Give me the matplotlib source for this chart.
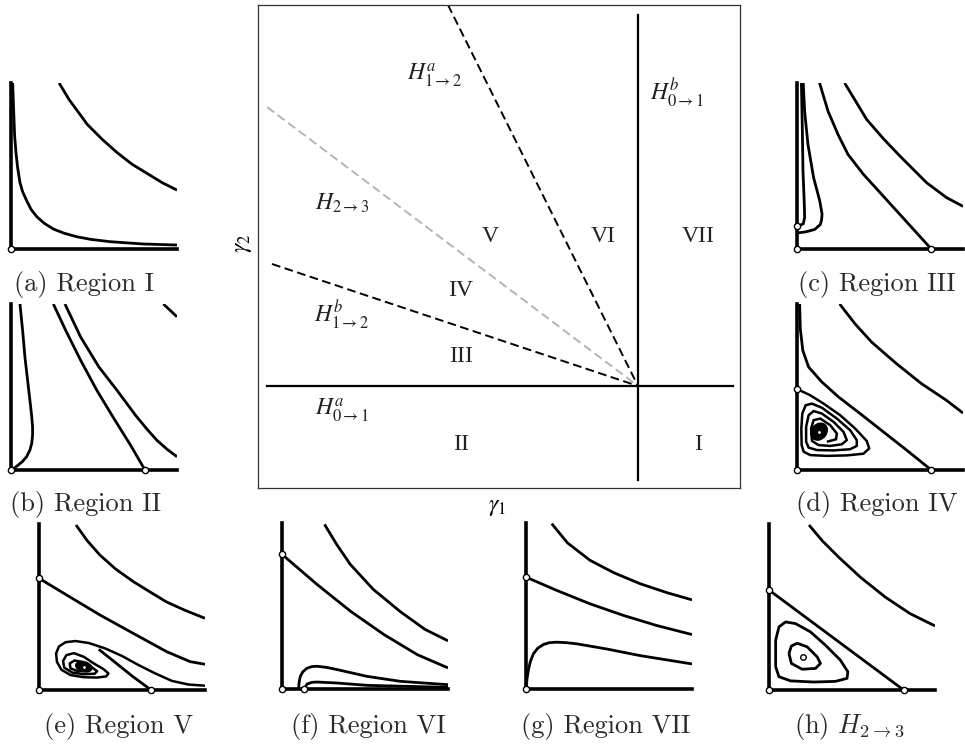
import numpy as np
import matplotlib
matplotlib.use('Agg')
import matplotlib.pyplot as plt
from matplotlib.patches import Ellipse

W, H = 965, 744

# ---- bifurcation diagram (main box), origin at crossing point ----
h01a_x, h01a_y = [-3.71, 0.95], [0.0, 0.0]
h01b_x, h01b_y = [0.0, 0.0], [-0.94, 3.71]
h12a_x, h12a_y = [-1.90, 0.0], [3.81, 0.0]
h23_x, h23_y = [-3.71, 0.0], [2.79, 0.0]
h12b_x, h12b_y = [-3.66, 0.0], [1.22, 0.0]

region_names = ['I', 'II', 'III', 'IV', 'V', 'VI', 'VII']
region_x = [0.60, -1.77, -1.77, -1.77, -1.48, -0.35, 0.60]
region_y = [-0.59, -0.59, 0.30, 0.95, 1.49, 1.49, 1.49]

curve_labels = [r'$H^{a}_{1\to2}$', r'$H^{b}_{0\to1}$', r'$H_{2\to3}$',
                r'$H^{b}_{1\to2}$', r'$H^{a}_{0\to1}$']
curve_label_x = [-2.03, 0.39, -2.96, -2.96, -2.96]
curve_label_y = [3.11, 2.93, 1.83, 0.71, -0.24]

# ---- phase portraits, panel units (0..1) ----
a_upper = [(0.29, 1.0), (0.35, 0.9), (0.46, 0.75), (0.55, 0.66), (0.64, 0.58),
           (0.73, 0.51), (0.82, 0.455), (0.91, 0.40), (1.0, 0.355)]
a_lower = [(0.01, 1.0), (0.018, 0.78), (0.022, 0.68), (0.03, 0.58), (0.04, 0.49),
           (0.054, 0.40), (0.07, 0.345), (0.095, 0.29), (0.12, 0.24), (0.155, 0.195),
           (0.2, 0.155), (0.256, 0.12), (0.32, 0.095), (0.396, 0.074), (0.48, 0.058),
           (0.598, 0.044), (0.8, 0.03), (1.0, 0.024)]

b_saddle = 0.807
b_node = [(0.054, 1.0), (0.07, 0.84), (0.084, 0.68), (0.1, 0.54), (0.114, 0.42),
          (0.124, 0.33), (0.13, 0.26), (0.13, 0.21), (0.125, 0.161), (0.114, 0.12),
          (0.094, 0.08), (0.07, 0.052), (0.044, 0.03), (0.02, 0.012), (0.0, 0.0)]
b_sep = [(0.255, 1.0), (0.33, 0.84), (0.42, 0.66), (0.516, 0.482), (0.62, 0.31),
         (0.72, 0.15), (0.807, 0.0)]
b_far = [(0.325, 1.0), (0.42, 0.8), (0.53, 0.62), (0.637, 0.482), (0.75, 0.33),
         (0.82, 0.245), (0.878, 0.18), (0.94, 0.125), (1.0, 0.08)]
b_corner = [(0.918, 1.0), (1.0, 0.923)]

c_eq_v, c_saddle = 0.139, 0.809
c_inner = [(0.026, 1.03), (0.032, 0.73), (0.036, 0.47), (0.044, 0.27),
           (0.046, 0.19), (0.038, 0.152), (0.006, 0.138)]
c_loop = [(0.036, 1.03), (0.046, 0.83), (0.066, 0.63), (0.1, 0.43), (0.137, 0.29),
          (0.151, 0.21), (0.148, 0.175), (0.141, 0.148), (0.107, 0.118),
          (0.056, 0.104), (0.0, 0.096)]
c_sep = [(0.127, 1.03), (0.187, 0.83), (0.247, 0.69), (0.307, 0.57), (0.4, 0.45),
         (0.5, 0.34), (0.6, 0.23), (0.7, 0.12), (0.809, 0.0)]
c_far = [(0.287, 1.0), (0.42, 0.78), (0.52, 0.665), (0.62, 0.56), (0.78, 0.4),
         (0.9, 0.31), (1.0, 0.257)]

d_eq_v, d_saddle = 0.488, 0.809
d_far = [(0.257, 1.0), (0.35, 0.88), (0.45, 0.77), (0.6, 0.64), (0.75, 0.52),
         (0.9, 0.42), (1.0, 0.343)]
d_sep = [(0.016, 1.0), (0.02, 0.85), (0.035, 0.72), (0.07, 0.62), (0.15, 0.53),
         (0.25, 0.44), (0.38, 0.34), (0.52, 0.23), (0.66, 0.12), (0.809, 0.0)]
d_spiral = [(0.0, 0.488), (0.08, 0.45), (0.16, 0.40), (0.26, 0.33), (0.35, 0.25),
            (0.42, 0.175), (0.435, 0.13), (0.40, 0.098), (0.30, 0.088), (0.18, 0.085),
            (0.08, 0.09), (0.04, 0.11), (0.028, 0.15), (0.026, 0.25), (0.032, 0.34),
            (0.052, 0.39), (0.09, 0.40), (0.15, 0.375), (0.24, 0.31), (0.32, 0.24),
            (0.36, 0.18), (0.36, 0.145), (0.32, 0.125), (0.22, 0.118), (0.12, 0.12),
            (0.07, 0.135), (0.055, 0.17), (0.055, 0.26), (0.07, 0.33), (0.1, 0.355),
            (0.15, 0.34), (0.22, 0.29), (0.28, 0.23), (0.3, 0.18), (0.27, 0.155),
            (0.2, 0.145), (0.13, 0.15), (0.09, 0.175), (0.085, 0.25), (0.1, 0.3),
            (0.14, 0.31), (0.2, 0.27), (0.24, 0.22), (0.235, 0.185), (0.18, 0.17)]
d_focus = (0.133, 0.231)

e_eq_v, e_saddle = 0.673, 0.675
e_far = [(0.223, 0.994), (0.29, 0.9), (0.367, 0.813), (0.46, 0.73), (0.568, 0.653),
         (0.67, 0.59), (0.769, 0.53), (0.88, 0.48), (1.0, 0.432)]
e_manifold = [(0.0, 0.673), (0.167, 0.572), (0.367, 0.452), (0.568, 0.341),
              (0.769, 0.231), (0.91, 0.171), (1.0, 0.155)]
e_spiral = [(1.0, 0.026), (0.9, 0.033), (0.8, 0.055), (0.7, 0.1), (0.6, 0.15),
            (0.5, 0.205), (0.4, 0.25), (0.3, 0.283), (0.22, 0.295), (0.16, 0.288),
            (0.12, 0.262), (0.103, 0.22), (0.108, 0.17), (0.135, 0.122), (0.19, 0.09),
            (0.27, 0.077), (0.35, 0.075), (0.405, 0.082), (0.418, 0.1), (0.39, 0.125),
            (0.33, 0.16), (0.27, 0.2), (0.21, 0.222), (0.165, 0.21), (0.145, 0.175),
            (0.152, 0.135), (0.2, 0.105), (0.27, 0.095), (0.335, 0.098), (0.35, 0.113),
            (0.315, 0.14), (0.265, 0.168), (0.215, 0.178), (0.185, 0.16), (0.19, 0.13),
            (0.23, 0.115), (0.28, 0.115), (0.3, 0.125)]
e_into_saddle = [(0.36, 0.245), (0.448, 0.175), (0.56, 0.085), (0.675, 0.0)]
e_focus = (0.27, 0.14)

f_eq_v, f_eq_u = 0.811, 0.135
f_far = [(0.256, 0.992), (0.33, 0.87), (0.412, 0.75), (0.55, 0.6), (0.714, 0.465),
         (0.86, 0.36), (1.0, 0.29)]
f_manifold = [(0.0, 0.811), (0.211, 0.63), (0.412, 0.469), (0.614, 0.328),
              (0.815, 0.207), (1.0, 0.127)]
f_hump = [(0.1, 0.0), (0.103, 0.04), (0.11, 0.075), (0.125, 0.103), (0.15, 0.125),
          (0.18, 0.135), (0.211, 0.137), (0.27, 0.13), (0.332, 0.117), (0.42, 0.097),
          (0.513, 0.076), (0.714, 0.046), (1.0, 0.026)]
f_hump2 = [(0.135, 0.0), (0.151, 0.03), (0.18, 0.04), (0.211, 0.042), (0.332, 0.036),
           (0.513, 0.022), (1.0, 0.01)]

g_eq_v = 0.674
g_far = [(0.155, 0.996), (0.25, 0.88), (0.386, 0.775), (0.53, 0.7), (0.688, 0.634),
         (0.85, 0.58), (1.0, 0.537)]
g_manifold = [(0.0, 0.674), (0.185, 0.594), (0.386, 0.513), (0.588, 0.443),
              (0.789, 0.382), (1.0, 0.328)]
g_hump = [(0.0, 0.0), (0.006, 0.06), (0.014, 0.111), (0.026, 0.165), (0.044, 0.211),
          (0.07, 0.245), (0.105, 0.268), (0.14, 0.279), (0.185, 0.282), (0.245, 0.279),
          (0.306, 0.272), (0.487, 0.241), (0.688, 0.201), (1.0, 0.151)]

h_eq_v, h_saddle = 0.602, 0.811
h_far = [(0.241, 0.994), (0.32, 0.9), (0.42, 0.8), (0.55, 0.68), (0.7, 0.56),
         (0.85, 0.46), (1.0, 0.386)]
h_orbit_out = [(0.04, 0.14), (0.04, 0.3), (0.06, 0.38), (0.1, 0.41), (0.16, 0.4),
               (0.25, 0.35), (0.34, 0.27), (0.43, 0.18), (0.475, 0.11), (0.47, 0.07),
               (0.4, 0.052), (0.27, 0.048), (0.13, 0.055), (0.06, 0.08), (0.04, 0.14)]
h_orbit_in = [(0.12, 0.22), (0.135, 0.265), (0.17, 0.282), (0.23, 0.26), (0.29, 0.2),
              (0.31, 0.16), (0.28, 0.13), (0.2, 0.125), (0.135, 0.16), (0.12, 0.22)]
h_center = (0.205, 0.201)

captions = ['(a) Region I', '(b) Region II', '(c) Region III', '(d) Region IV',
            '(e) Region V', '(f) Region VI', '(g) Region VII', r'(h) $H_{2\to3}$']
# panel origin (px), caption centre (px)
panel_origin = [(11, 249), (11, 470), (797, 249), (797, 470),
                (39, 690), (282, 689), (526, 689), (769, 690)]
caption_pos = [(84, 284), (86, 504), (877, 284), (877, 504),
               (119, 727), (368, 727), (606, 727), (849, 727)]

LW = 2.0
AX_LW = 2.6


def curve(ax, pts, lw=LW, **kw):
    p = np.array(pts)
    ax.plot(p[:, 0], p[:, 1], color='black', lw=lw, solid_capstyle='butt',
            solid_joinstyle='round', **kw)


def eq(ax, u, v, ms=4.5):
    ax.plot([u], [v], 'o', ms=ms, mfc='white', mec='black', mew=1.0,
            clip_on=False, zorder=10)


def panel(i):
    x0, y0 = panel_origin[i]
    ax = fig.add_axes([x0 / W, (H - y0) / H, 166 / W, 166 / H])
    ax.set_xlim(0, 1)
    ax.set_ylim(0, 1)
    ax.axis('off')
    ax.plot([0, 0], [0, 1], color='black', lw=AX_LW, clip_on=False)
    ax.plot([0, 1], [0, 0], color='black', lw=AX_LW, clip_on=False)
    fig.text(caption_pos[i][0] / W, 1 - caption_pos[i][1] / H, captions[i],
             ha='center', va='center', fontsize=19, family='cmr10',
             math_fontfamily='cm', color='#2a2a2a')
    return ax


fig = plt.figure(figsize=(W / 100, H / 100), dpi=100)

# main diagram
ax = fig.add_axes([258 / W, (H - 488) / H, 482 / W, 483 / H])
ax.set_xlim(-3.80, 1.02)
ax.set_ylim(-1.02, 3.81)
ax.set_xticks([])
ax.set_yticks([])
for s in ax.spines.values():
    s.set_color('#333333')
    s.set_linewidth(0.9)
ax.plot(h23_x, h23_y, color='#b4b4b4', lw=1.4, dashes=(4.5, 2.3))
ax.plot(h12a_x, h12a_y, color='black', lw=1.4, dashes=(4.5, 2.3))
ax.plot(h12b_x, h12b_y, color='black', lw=1.4, dashes=(4.5, 2.3))
ax.plot(h01a_x, h01a_y, color='black', lw=1.6)
ax.plot(h01b_x, h01b_y, color='black', lw=1.6)
for name, x, y in zip(region_names, region_x, region_y):
    ax.text(x, y, name, ha='center', va='center', fontsize=17,
            family='Liberation Serif', color='#222222')
for lab, x, y in zip(curve_labels, curve_label_x, curve_label_y):
    ax.text(x, y, lab, ha='center', va='center', fontsize=17,
            math_fontfamily='stix', color='#222222')
fig.text(497 / W, 1 - 506 / H, r'$\gamma_1$', ha='center', va='center',
         fontsize=17, math_fontfamily='stix')
fig.text(242 / W, 1 - 243 / H, r'$\gamma_2$', ha='center', va='center',
         fontsize=17, math_fontfamily='stix', rotation=90)

# (a)
ax = panel(0)
curve(ax, a_upper)
curve(ax, a_lower)
eq(ax, 0, 0)

# (b)
ax = panel(1)
for c in (b_node, b_sep, b_far, b_corner):
    curve(ax, c)
eq(ax, 0, 0)
eq(ax, b_saddle, 0)

# (c)
ax = panel(2)
for c in (c_inner, c_loop, c_sep, c_far):
    curve(ax, c)
eq(ax, 0, 0)
eq(ax, 0, c_eq_v)
eq(ax, c_saddle, 0)

# (d)
ax = panel(3)
for c in (d_far, d_sep):
    curve(ax, c)
curve(ax, d_spiral, lw=1.8)
ax.add_patch(Ellipse(d_focus, 0.09, 0.11, angle=-40, color='black'))
eq(ax, 0, 0)
eq(ax, 0, d_eq_v)
eq(ax, d_saddle, 0)
eq(ax, *d_focus, ms=3)

# (e)
ax = panel(4)
for c in (e_far, e_manifold, e_into_saddle):
    curve(ax, c)
curve(ax, e_spiral, lw=1.8)
ax.add_patch(Ellipse(e_focus, 0.1, 0.06, angle=-15, color='black'))
eq(ax, 0, 0)
eq(ax, 0, e_eq_v)
eq(ax, e_saddle, 0)
eq(ax, *e_focus, ms=3)

# (f)
ax = panel(5)
for c in (f_far, f_manifold, f_hump, f_hump2):
    curve(ax, c)
eq(ax, 0, 0)
eq(ax, 0, f_eq_v)
eq(ax, f_eq_u, 0)

# (g)
ax = panel(6)
for c in (g_far, g_manifold, g_hump):
    curve(ax, c)
eq(ax, 0, 0)
eq(ax, 0, g_eq_v)

# (h)
ax = panel(7)
curve(ax, h_far)
curve(ax, [(0, h_eq_v), (h_saddle, 0)])
curve(ax, h_orbit_out)
curve(ax, h_orbit_in)
eq(ax, 0, 0)
eq(ax, 0, h_eq_v)
eq(ax, h_saddle, 0)
eq(ax, *h_center, ms=4)

fig.savefig('out.png', dpi=100)
